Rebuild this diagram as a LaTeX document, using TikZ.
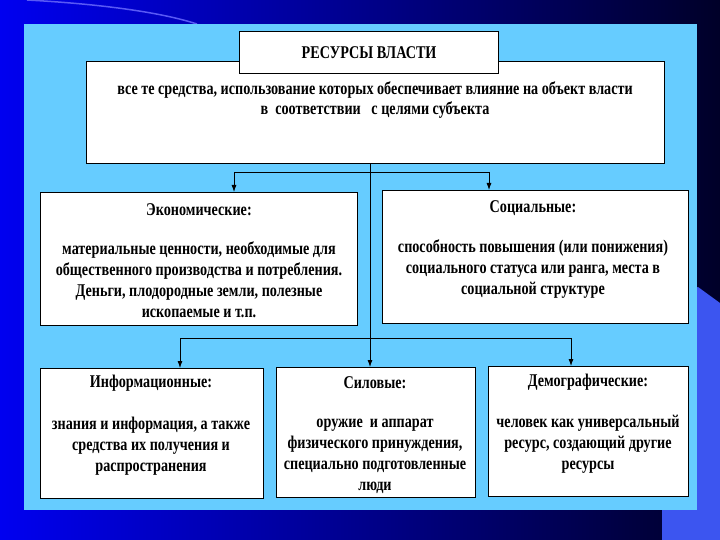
\documentclass[tikz,border=0pt]{standalone}
\usepackage{fontspec}
\setmainfont{Liberation Serif}[FakeStretch=0.79]
\usetikzlibrary{arrows.meta}

\definecolor{panel}{RGB}{102,204,255}
\definecolor{bgleft}{RGB}{0,0,240}
\definecolor{bgright}{RGB}{0,0,40}
\definecolor{bgblock}{RGB}{60,85,240}

\tikzset{
  box/.style={draw, fill=white, line width=1.2bp, anchor=north west, inner sep=0pt},
  head/.style={font=\fontsize{18}{21}\selectfont\bfseries},
  body/.style={font=\fontsize{18}{21}\selectfont\bfseries, align=center},
  link/.style={line width=0.8bp},
  arr/.style={link, -{Latex[length=7bp,width=5bp]}}
}

\begin{document}
\begin{tikzpicture}[x=1bp,y=-1bp]
    \useasboundingbox (0,0) rectangle (720,540);
    % background
    \shade[left color=bgleft, right color=bgright] (0,0) rectangle (720,540);
    \draw[white!35!bgleft, line width=1.5bp] (27,0) .. controls (100,4) and (160,12) .. (197,24);
    \fill[bgblock] (698,287) -- (720,303) -- (720,540) -- (662,540) -- (662,300) -- cycle;
    \fill[panel] (24,24) rectangle (697,510);

    % boxes
    \node[box, minimum width=578bp, minimum height=102bp] (def) at (86,61) {};
    \node[box, minimum width=259bp, minimum height=42bp] (res) at (239,31) {};
    \node[box, minimum width=317bp, minimum height=133bp] (econ) at (40,192) {};
    \node[box, minimum width=306bp, minimum height=133bp] (soc) at (382,190) {};
    \node[box, minimum width=223bp, minimum height=130bp] (info) at (40,368) {};
    \node[box, minimum width=199bp, minimum height=130bp] (sil) at (276,367) {};
    \node[box, minimum width=200bp, minimum height=130bp] (demo) at (488,366) {};

    % texts
    \node[head] (restxt) at (res.center) {РЕСУРСЫ ВЛАСТИ};
    \node[body] (deftxt) at (375,100) {все те средства, использование которых обеспечивает влияние на объект власти\\в~~соответствии~~~с целями субъекта};
    \node[head] (econhead) at (199,210) {Экономические:};
    \node[body] (econtxt) at (199,280) {материальные ценности, необходимые для\\общественного производства и потребления.\\Деньги, плодородные земли, полезные\\ископаемые и т.п.};
    \node[head] (sochead) at (533,208) {Социальные:};
    \node[body] (soctxt) at (533,269) {способность повышения (или понижения)\\социального статуса или ранга, места в\\социальной структуре};
    \node[head] (infohead) at (151,383) {Информационные:};
    \node[body] (infotxt) at (151,446) {знания и информация, а также\\средства их получения и\\распространения};
    \node[head] (silhead) at (375,383) {Силовые:};
    \node[body] (siltxt) at (375,456) {оружие~~и аппарат\\физического принуждения,\\специально подготовленные\\люди};
    \node[head] (demohead) at (588,382) {Демографические:};
    \node[body] (demotxt) at (588,444) {человек как универсальный\\ресурс, создающий другие\\ресурсы};

    % connectors
    \coordinate (a1) at (234,172);
    \coordinate (a2) at (489,172);
    \coordinate (b1) at (180,338);
    \coordinate (b2) at (571,338);
    \coordinate (mid) at (370,172);
    \draw[arr] (def.south -| mid) -- (sil.north -| mid);
    \draw[link] (a1) -- (a2);
    \draw[arr] (a1) -- (a1 |- econ.north);
    \draw[arr] (a2) -- (a2 |- soc.north);
    \draw[link] (b1) -- (b2);
    \draw[arr] (b1) -- (b1 |- info.north);
    \draw[arr] (b2) -- (b2 |- demo.north);
\end{tikzpicture}
\end{document}
